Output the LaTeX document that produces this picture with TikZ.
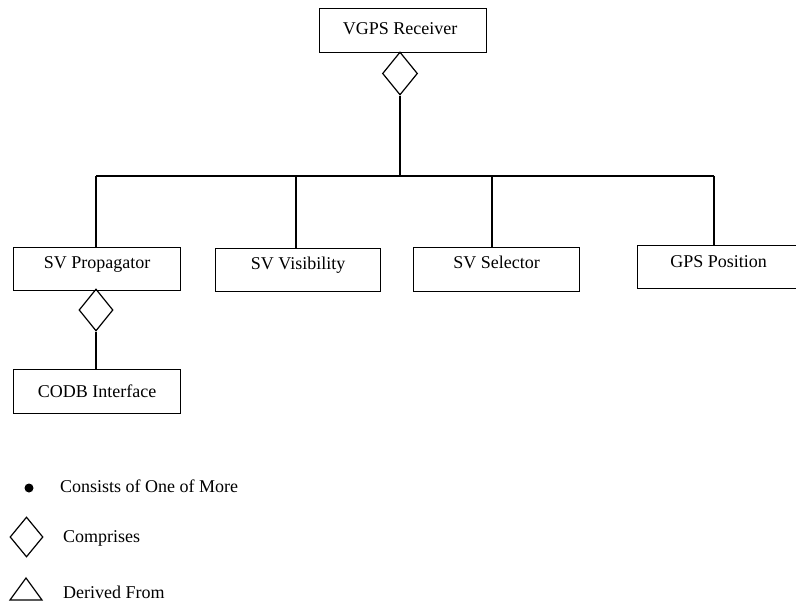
\documentclass[tikz,border=0pt]{standalone}
\usepackage{fontspec}
\setmainfont{Liberation Serif}
\usetikzlibrary{shapes.geometric}
\tikzset{
  ln/.style={line width=1.2pt},
  box/.style={draw, ln, inner xsep=0pt, inner ysep=0pt, anchor=north west,
    font=\fontsize{18}{20}\selectfont},
  comp/.style={draw, ln, diamond, inner sep=0pt, minimum width=35pt, minimum height=43pt},
  legtext/.style={anchor=west, inner sep=0pt, font=\fontsize{18}{20}\selectfont}
}
\begin{document}
\begin{tikzpicture}[x=1pt,y=-1pt]
\useasboundingbox (0,0) rectangle (796,604);
% boxes
\node[box, minimum width=167pt, minimum height=44pt, text height=26pt, text depth=18pt] (vgps) at (319,8) {VGPS Receiver\hspace*{6pt}};
\node[box, minimum width=167pt, minimum height=43pt, text height=21pt, text depth=22pt] (prop) at (13,247) {SV Propagator};
\node[box, minimum width=165pt, minimum height=43pt, text height=21pt, text depth=22pt] (vis) at (215,248) {SV Visibility};
\node[box, minimum width=166pt, minimum height=44pt, text height=21pt, text depth=23pt] (sel) at (413,247) {SV Selector};
\node[box, minimum width=180pt, minimum height=43pt, text height=22pt, text depth=21pt] (gps) at (637,245) {GPS Position\hspace*{18pt}};
\node[box, minimum width=167pt, minimum height=44pt, text height=28pt, text depth=16pt] (codb) at (13,369) {CODB Interface};
% diamonds
\node[comp] (d1) at (400,73.5) {};
\node[comp, minimum width=34pt, minimum height=42pt] (d2) at (96,310) {};
% junctions
\coordinate (bar) at (400,176);
\coordinate (j1) at (96,176);
\coordinate (j2) at (296,176);
\coordinate (j3) at (492,176);
\coordinate (j4) at (714,176);
\draw[ln] (d1.south) -- (bar);
\draw[ln] (j1) -- (j4);
\draw[ln] (j1) -- (j1 |- prop.north);
\draw[ln] (j2) -- (j2 |- vis.north);
\draw[ln] (j3) -- (j3 |- sel.north);
\draw[ln] (j4) -- (j4 |- gps.north);
\draw[ln] (d2.south) -- (d2.south |- codb.north);
% legend
\node[circle, fill, inner sep=0pt, minimum size=9pt] (ldot) at (29,488) {};
\node[legtext] (l1) at (60,486) {Consists of One of More};
\node[comp, minimum width=33pt, minimum height=40pt] (ldia) at (26.5,537) {};
\node[legtext] (l2) at (63,538) {Comprises};
\draw[ln] (10,600) -- (26,578) -- (42,600) -- cycle;
\node[legtext] (l3) at (63,592) {Derived From};
\end{tikzpicture}
\end{document}
